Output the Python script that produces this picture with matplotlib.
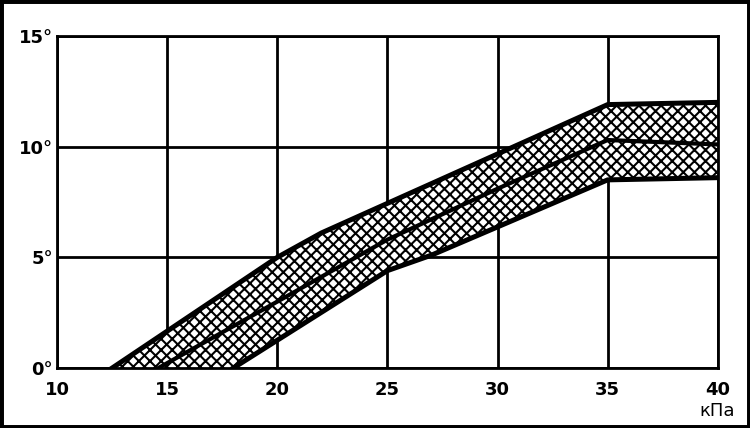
import matplotlib
matplotlib.use("Agg")
import matplotlib.pyplot as plt
from matplotlib.patches import Rectangle

# Kurven (x in kPa, y in Grad)
upper_x = [12.5, 20, 22, 35, 40]
upper_y = [0, 5.0, 6.1, 11.9, 12.0]
lower_x = [18, 25, 27, 35, 40]
lower_y = [0, 4.4, 5.1, 8.5, 8.6]
mid_x = [14.6, 20, 25, 30, 35, 40]
mid_y = [0, 3.0, 5.8, 8.1, 10.3, 10.1]

x_ticks = [10, 15, 20, 25, 30, 35, 40]
y_ticks = [0, 5, 10, 15]
y_labels = ["0°", "5°", "10°", "15°"]

plt.rcParams['hatch.linewidth'] = 1.5
plt.rcParams['hatch.color'] = 'black'

fig = plt.figure(figsize=(7.5, 4.28), dpi=100)
ax = fig.add_axes([0.076, 0.14, 0.881, 0.776])

# schraffiertes Band
poly_x = upper_x + lower_x[::-1]
poly_y = upper_y + lower_y[::-1]
ax.fill(poly_x, poly_y, facecolor='white', edgecolor='black', hatch='xxx', lw=0, zorder=2)

ax.plot(upper_x, upper_y, color='black', lw=3.6, solid_joinstyle='round', zorder=3)
ax.plot(lower_x, lower_y, color='black', lw=3.6, solid_joinstyle='round', zorder=3)
ax.plot(mid_x, mid_y, color='black', lw=3.0, solid_joinstyle='round', zorder=3)

ax.set_xlim(10, 40)
ax.set_ylim(0, 15)
ax.set_xticks(x_ticks)
ax.set_yticks(y_ticks)
ax.grid(True, color='black', lw=2.0, zorder=1)
ax.set_axisbelow(True)
for s in ax.spines.values():
    s.set_linewidth(2.0)
ax.tick_params(length=0, pad=9)
ax.set_xticklabels([str(v) for v in x_ticks], fontsize=13, fontweight='bold')
ax.set_yticklabels(y_labels, fontsize=13, fontweight='bold')
ax.tick_params(axis='y', pad=3)

fig.text(0.98, 0.018, "кПа", fontsize=13, ha='right', va='bottom')

# Rahmen um das ganze Bild
fig.patches.append(Rectangle((0, 0), 1, 1, transform=fig.transFigure,
                             fill=False, edgecolor='black', lw=5))

fig.savefig("out.png", dpi=100)
